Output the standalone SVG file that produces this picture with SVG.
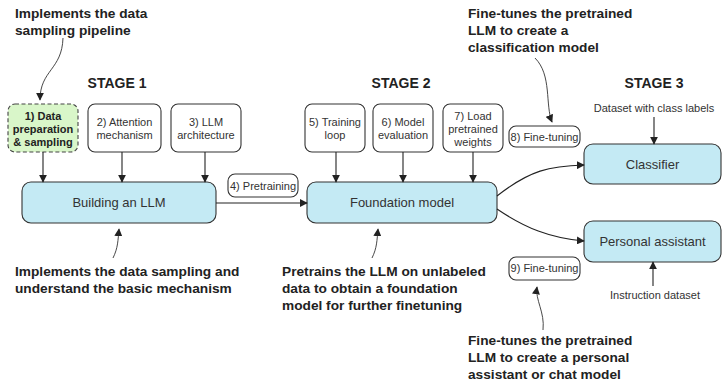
<svg xmlns="http://www.w3.org/2000/svg" width="723" height="382" viewBox="0 0 723 382">
<defs>
<marker id="ah" viewBox="0 0 10 10" refX="9" refY="5" markerWidth="8" markerHeight="8" markerUnits="userSpaceOnUse" orient="auto"><path d="M0,0 L10,5 L0,10 z" fill="#222"/></marker>
<style>
.box{fill:#fff;stroke:#333;stroke-width:1.1}
.main{fill:#c4eaf4;stroke:#333;stroke-width:1.1}
.green{fill:#d9f6c9;stroke:#444;stroke-width:1.1;stroke-dasharray:4 2.5}
.t{font-family:"Liberation Sans",Arial,sans-serif;font-size:11px;fill:#333;text-anchor:middle}
.tb{font-family:"Liberation Sans",Arial,sans-serif;font-size:11px;fill:#222;font-weight:bold;text-anchor:middle}
.tm{font-family:"Liberation Sans",Arial,sans-serif;font-size:13px;fill:#333;text-anchor:middle}
.st{font-family:"Liberation Sans",Arial,sans-serif;font-size:14px;font-weight:bold;fill:#222;text-anchor:middle}
.an{font-family:"Liberation Sans Narrow","Liberation Sans",Arial,sans-serif;font-size:13.7px;font-weight:bold;fill:#222}
.c{fill:none;stroke:#222;stroke-width:1.1}
.a{fill:none;stroke:#333;stroke-width:0.9}
</style>
</defs>
<rect width="723" height="382" fill="#fff"/>

<text class="st" x="117" y="88">STAGE 1</text>
<text class="st" x="401" y="88">STAGE 2</text>
<text class="st" x="654" y="88">STAGE 3</text>

<g id="n1"><rect class="green" x="8" y="104" width="70" height="48" rx="7"/>
<text class="tb" x="43" y="120">1) Data</text><text class="tb" x="43" y="133">preparation</text><text class="tb" x="43" y="146">&amp; sampling</text></g>
<g id="n2"><rect class="box" x="88" y="104" width="73" height="48" rx="7"/>
<text class="t" x="124.5" y="126">2) Attention</text><text class="t" x="124.5" y="139">mechanism</text></g>
<g id="n3"><rect class="box" x="171" y="104" width="70" height="48" rx="7"/>
<text class="t" x="206" y="126">3) LLM</text><text class="t" x="206" y="139">architecture</text></g>
<g id="n5"><rect class="box" x="305" y="104" width="60" height="48" rx="7"/>
<text class="t" x="335" y="126">5) Training</text><text class="t" x="335" y="139">loop</text></g>
<g id="n6"><rect class="box" x="373" y="104" width="60" height="48" rx="7"/>
<text class="t" x="403" y="126">6) Model</text><text class="t" x="403" y="139">evaluation</text></g>
<g id="n7"><rect class="box" x="443" y="104" width="60" height="48" rx="7"/>
<text class="t" x="473" y="120">7) Load</text><text class="t" x="473" y="133">pretrained</text><text class="t" x="473" y="146">weights</text></g>

<g id="building"><rect class="main" x="22" y="182" width="194" height="41" rx="9"/>
<text class="tm" x="119" y="207">Building an LLM</text></g>
<g id="foundation"><rect class="main" x="307" y="182" width="190" height="41" rx="9"/>
<text class="tm" x="402" y="207">Foundation model</text></g>
<g id="classifier"><rect class="main" x="584" y="144" width="137" height="40" rx="9"/>
<text class="tm" x="652.5" y="169">Classifier</text></g>
<g id="assistant"><rect class="main" x="584" y="221" width="137" height="41" rx="9"/>
<text class="tm" x="652.5" y="246">Personal assistant</text></g>

<g id="l4"><rect class="box" x="228" y="174" width="70" height="23" rx="7"/><text class="t" x="263" y="190">4) Pretraining</text></g>
<g id="l8"><rect class="box" x="509" y="126" width="71" height="21" rx="7"/><text class="t" x="544.5" y="141">8) Fine-tuning</text></g>
<g id="l9"><rect class="box" x="509" y="257" width="71" height="23" rx="7"/><text class="t" x="544.5" y="272">9) Fine-tuning</text></g>

<g id="inputs">
<text class="t" x="654" y="112">Dataset with class labels</text>
<text class="t" x="655" y="299">Instruction dataset</text>
</g>

<g id="connectors">
<line class="c" x1="43" y1="152" x2="43" y2="182" marker-end="url(#ah)"/>
<line class="c" x1="122" y1="152" x2="122" y2="182" marker-end="url(#ah)"/>
<line class="c" x1="205" y1="152" x2="205" y2="182" marker-end="url(#ah)"/>
<line class="c" x1="336" y1="152" x2="336" y2="182" marker-end="url(#ah)"/>
<line class="c" x1="403" y1="152" x2="403" y2="182" marker-end="url(#ah)"/>
<line class="c" x1="473" y1="152" x2="473" y2="182" marker-end="url(#ah)"/>
<line class="c" x1="216" y1="203" x2="307" y2="203" marker-end="url(#ah)"/>
<path class="c" d="M497,196 C530,170 550,166 584,165" marker-end="url(#ah)"/>
<path class="c" d="M497,209 C525,228 550,238 584,241" marker-end="url(#ah)"/>
<line class="c" x1="654" y1="117" x2="654" y2="144" marker-end="url(#ah)"/>
<line class="c" x1="653" y1="286" x2="653" y2="262" marker-end="url(#ah)"/>
<path class="a" d="M63,38 C62,70 40,70 40,100" marker-end="url(#ah)"/>
<path class="a" d="M535,58 C552,75 545,105 552,122" marker-end="url(#ah)"/>
<path class="a" d="M113,258 C118,248 118,240 119,229" marker-end="url(#ah)"/>
<path class="a" d="M372,258 C377,248 377,240 378,229" marker-end="url(#ah)"/>
<path class="a" d="M543,330 C545,312 535,300 537,287" marker-end="url(#ah)"/>
</g>

<g id="annotations">
<text class="an" x="15" y="18">Implements the data</text>
<text class="an" x="15" y="35">sampling pipeline</text>
<text class="an" x="468" y="18">Fine-tunes the pretrained</text>
<text class="an" x="468" y="35">LLM to create a</text>
<text class="an" x="468" y="52">classification model</text>
<text class="an" x="15" y="276">Implements the data sampling and</text>
<text class="an" x="15" y="293">understand the basic mechanism</text>
<text class="an" x="282" y="276">Pretrains the LLM on unlabeled</text>
<text class="an" x="282" y="293">data to obtain a foundation</text>
<text class="an" x="282" y="310">model for further finetuning</text>
<text class="an" x="468" y="345">Fine-tunes the pretrained</text>
<text class="an" x="468" y="362">LLM to create a personal</text>
<text class="an" x="468" y="379">assistant or chat model</text>
</g>
</svg>
